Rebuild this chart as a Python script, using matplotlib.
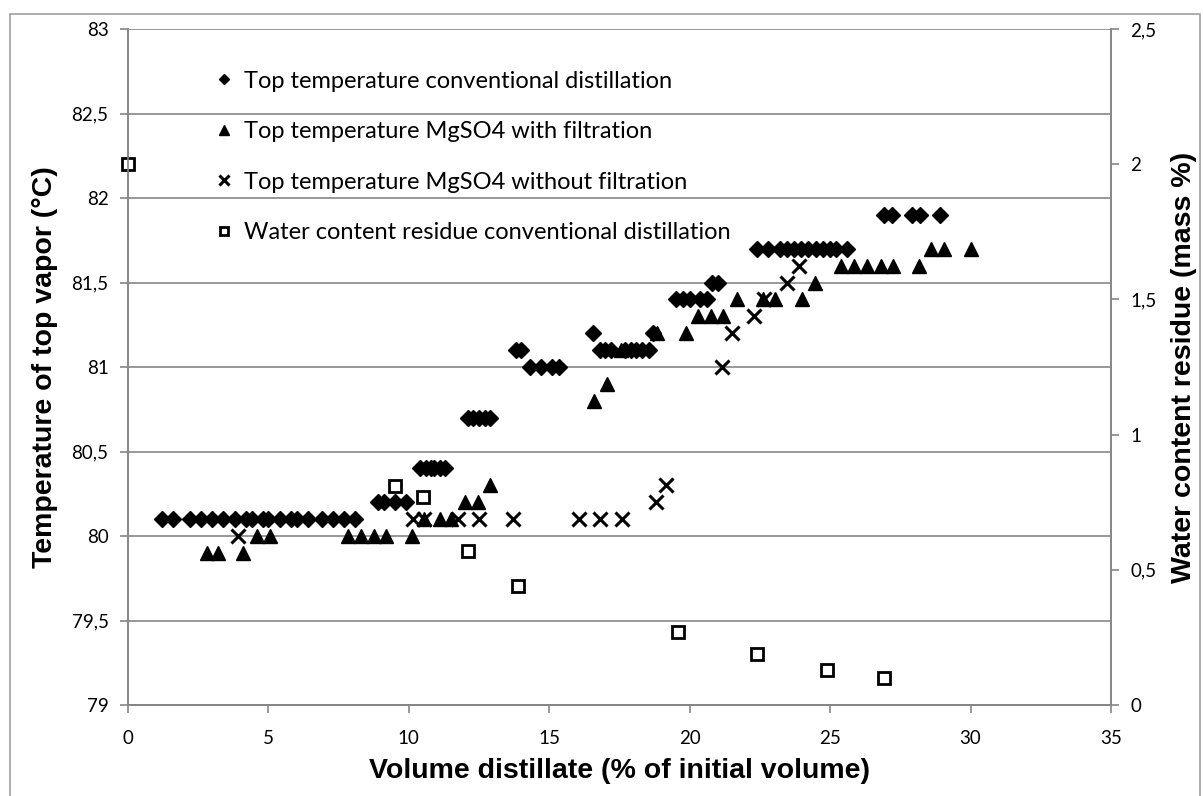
import matplotlib
matplotlib.use("Agg")
import matplotlib.pyplot as plt
from matplotlib.patches import Rectangle

plt.rcParams['font.family'] = ['Lato', 'DejaVu Sans']

# Top temperature conventional distillation (left axis, degC)
conv_x = [1.2, 1.6, 2.2, 2.6, 3.0, 3.4, 3.8, 4.2, 4.4, 4.8, 5.0, 5.4, 5.8, 6.0, 6.4, 6.9, 7.3, 7.7, 8.1,
          8.9, 9.1, 9.5, 9.9,
          10.4, 10.6, 10.8, 10.9, 11.1, 11.3,
          12.1, 12.3, 12.5, 12.7, 12.9,
          13.8, 14.0,
          14.3, 14.7, 15.1, 15.35,
          16.55,
          16.8, 17.0, 17.2, 17.7, 17.9, 18.1, 18.3, 18.55,
          18.7,
          19.5, 19.75, 20.0, 20.35, 20.6,
          20.8, 21.0,
          22.4, 22.8, 23.2, 23.45, 23.7, 23.95, 24.2, 24.5, 24.75, 25.0, 25.2, 25.6,
          26.9, 27.2, 27.9, 28.2, 28.9]
conv_t = [80.1] * 19 + [80.2] * 4 + [80.4] * 6 + [80.7] * 5 + [81.1] * 2 + [81.0] * 4 + [81.2] \
         + [81.1] * 8 + [81.2] + [81.4] * 5 + [81.5] * 2 + [81.7] * 12 + [81.9] * 5

# Top temperature MgSO4 with filtration
filt_x = [2.8, 3.2, 4.1,
          4.6, 5.05, 7.85, 8.3, 8.75, 9.2, 10.1,
          10.55, 11.1, 11.5,
          12.0, 12.45,
          12.9,
          16.6, 17.05, 17.55,
          18.85, 19.85,
          20.3, 20.75, 21.2,
          21.7, 22.6, 23.05, 24.0,
          24.45,
          25.4, 25.85, 26.3, 26.8, 27.25, 28.15,
          28.6, 29.05, 30.0]
filt_t = [79.9] * 3 + [80.0] * 7 + [80.1] * 3 + [80.2] * 2 + [80.3] + [80.8, 80.9, 81.1] \
         + [81.2] * 2 + [81.3] * 3 + [81.4] * 4 + [81.5] + [81.6] * 6 + [81.7] * 3

# Top temperature MgSO4 without filtration
nofilt_x = [3.9, 10.15, 10.55, 11.75, 12.5, 13.7, 16.05, 16.8, 17.6, 18.8, 19.15,
            21.15, 21.5, 22.3, 22.65, 23.45, 23.9]
nofilt_t = [80.0, 80.1, 80.1, 80.1, 80.1, 80.1, 80.1, 80.1, 80.1, 80.2, 80.3,
            81.0, 81.2, 81.3, 81.4, 81.5, 81.6]

# Water content residue conventional distillation (right axis, mass %)
water_x = [0.0, 9.5, 10.5, 12.1, 13.9, 19.6, 22.4, 24.9, 26.9]
water_w = [2.0, 0.81, 0.77, 0.57, 0.44, 0.27, 0.19, 0.13, 0.10]

left_ticks = [79, 79.5, 80, 80.5, 81, 81.5, 82, 82.5, 83]
left_labels = ['79', '79,5', '80', '80,5', '81', '81,5', '82', '82,5', '83']
right_ticks = [0, 0.5, 1, 1.5, 2, 2.5]
right_labels = ['0', '0,5', '1', '1,5', '2', '2,5']
x_ticks = [0, 5, 10, 15, 20, 25, 30, 35]

gray = '#868686'
bold_font = ['Liberation Sans', 'DejaVu Sans']

fig = plt.figure(figsize=(12.03, 7.96), dpi=100)
ax = fig.add_axes([128 / 1203, 1 - 705 / 796, (1111 - 128) / 1203, (705 - 29) / 796])
ax2 = ax.twinx()

# chart area border
fig.patches.append(Rectangle((10 / 1203, -0.05), 1190 / 1203, 1.05 - 14 / 796,
                             transform=fig.transFigure, fill=False, edgecolor='#a0a0a0', lw=1.2))

h1, = ax.plot(conv_x, conv_t, 'D', color='black', ms=8, ls='none',
              label='Top temperature conventional distillation')
h2, = ax.plot(filt_x, filt_t, '^', color='black', ms=10, ls='none',
              label='Top temperature MgSO4 with filtration')
h3, = ax.plot(nofilt_x, nofilt_t, 'x', color='black', ms=10.5, mew=2.2, ls='none',
              label='Top temperature MgSO4 without filtration')
h4, = ax2.plot(water_x, water_w, 's', mfc='white', mec='black', ms=9, mew=2, ls='none',
               label='Water content residue conventional distillation', clip_on=False)

ax.set_xlim(0, 35)
ax.set_ylim(79, 83)
ax2.set_ylim(0, 2.5)
ax.set_xticks(x_ticks)
ax.set_yticks(left_ticks)
ax.set_yticklabels(left_labels)
ax2.set_yticks(right_ticks)
ax2.set_yticklabels(right_labels)

ax.yaxis.grid(True, color=gray, lw=1.2)
ax.set_axisbelow(True)

for a in (ax, ax2):
    a.spines['top'].set_visible(False)
    for s in ('left', 'right', 'bottom'):
        a.spines[s].set_color(gray)
        a.spines[s].set_linewidth(1.2)
    a.tick_params(colors=gray, labelcolor='black', labelsize=13.5, length=6, width=1.2)
ax.tick_params(axis='x', pad=12)
ax.tick_params(axis='y', pad=8)
ax2.tick_params(axis='y', pad=8)

ax.set_xlabel('Volume distillate (% of initial volume)', fontsize=20.5, fontweight='bold',
              family=bold_font, labelpad=8)
ax.set_ylabel('Temperature of top vapor (°C)', fontsize=20.5, fontweight='bold',
              family=bold_font, labelpad=10)
ax2.set_ylabel('Water content residue (mass %)', fontsize=20.5, fontweight='bold',
               family=bold_font, labelpad=10)

ax2.legend(handles=[h1, h2, h3, h4], loc='upper left', bbox_to_anchor=(0.069, 0.97),
           frameon=False, fontsize=17, markerscale=0.7, handlelength=0.6,
           handletextpad=0.55, labelspacing=1.25)

fig.savefig('out.png', dpi=100)
